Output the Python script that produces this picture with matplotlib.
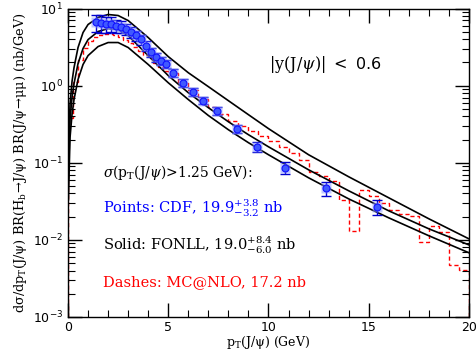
import numpy as np
import matplotlib
matplotlib.use("Agg")
import matplotlib.pyplot as plt
from matplotlib.ticker import LogLocator, MultipleLocator, NullFormatter

plt.rcParams['mathtext.fontset'] = 'dejavuserif'

# FONLL curves (solid): pT grid and central / upper / lower values (nb/GeV)
pt_fonll = [0.02, 0.1, 0.2, 0.3, 0.5, 0.75, 1, 1.5, 2, 2.5, 3, 4, 5, 6, 7, 8, 9, 10, 12, 14, 16, 18, 20]
fonll_upper = [0.109, 0.567, 1.13, 1.71, 3.12, 4.88, 6.2, 7.64, 8.36, 8.11, 6.98, 4.2, 2.38, 1.47, 0.97,
               0.638, 0.42, 0.277, 0.127, 0.0658, 0.0351, 0.01875, 0.0103]
fonll_central = [0.060, 0.362, 0.698, 1.06, 1.93, 3.03, 3.95, 5.03, 5.5, 5.34, 4.46, 2.45, 1.35, 0.81, 0.518,
                 0.34, 0.231, 0.161, 0.081, 0.0433, 0.0238, 0.0139, 0.0086]
fonll_lower = [0.033, 0.211, 0.42, 0.66, 1.2, 1.88, 2.45, 3.21, 3.62, 3.62, 3.12, 1.88, 1.09, 0.66, 0.41,
               0.268, 0.182, 0.127, 0.0638, 0.034, 0.0193, 0.0113, 0.0068]

# MC@NLO histogram (dashed)
mc_edges = [0, 0.25, 0.5, 0.75, 1, 1.25, 1.5, 1.75, 2, 2.25, 2.5, 2.75, 3, 3.25, 3.5, 3.75, 4, 4.25, 4.5, 4.75,
            5, 5.5, 6, 6.5, 7, 7.5, 8, 8.5, 9, 9.5, 10, 10.5, 11, 11.5, 12, 12.5, 13, 13.5, 14, 14.5, 15,
            15.5, 16, 16.5, 17, 17.5, 18, 18.5, 19, 19.5, 20]
mc_values = [0.38, 1.13, 2.18, 3.12, 3.84, 4.33, 4.6, 4.74, 4.74, 4.6, 4.33, 3.95, 3.62, 3.21, 2.85, 2.53,
             2.25, 1.99, 1.77, 1.57,
             1.45, 1.12, 0.87, 0.68, 0.53, 0.43, 0.35, 0.30, 0.26, 0.22, 0.19, 0.16, 0.135, 0.11,
             0.077, 0.068, 0.058, 0.033, 0.0129, 0.0446, 0.0375, 0.0297, 0.0246, 0.0217, 0.0204, 0.0093,
             0.0151, 0.0126, 0.0047, 0.0041]

# CDF data points
pt_cdf = [1.4, 1.65, 1.9, 2.15, 2.4, 2.65, 2.9, 3.15, 3.4, 3.65, 3.9, 4.15, 4.4, 4.65, 4.9, 5.25, 5.75,
          6.25, 6.75, 7.45, 8.45, 9.45, 10.8, 12.85, 15.4]
cdf_values = [6.6, 6.5, 6.3, 6.3, 6.0, 5.8, 5.4, 4.9, 4.5, 4.0, 3.3, 2.7, 2.35, 2.1, 1.9, 1.47, 1.09,
              0.835, 0.64, 0.47, 0.277, 0.161, 0.086, 0.047, 0.0268]
cdf_relerr = [0.25, 0.25, 0.24, 0.22, 0.2, 0.18, 0.17, 0.16, 0.15, 0.15, 0.14, 0.13, 0.13, 0.12, 0.12,
              0.11, 0.11, 0.11, 0.11, 0.11, 0.12, 0.14, 0.18, 0.2, 0.22]

fig = plt.figure(figsize=(4.77, 3.54), dpi=100)
ax = fig.add_axes([68/477, 1-317/354, 401/477, 308.5/354])

for arr in (fonll_upper, fonll_central, fonll_lower):
    ax.plot(pt_fonll, arr, color='black', lw=1.2)

ax.stairs(mc_values, mc_edges, color='red', lw=1.0, ls=(0, (3, 2)), baseline=1e-3)

yv = np.array(cdf_values)
err = yv * np.array(cdf_relerr)
ax.errorbar(pt_cdf, yv, yerr=err, fmt='none', ecolor='#0000cc', elinewidth=1.0, capsize=3.5, capthick=1.0, zorder=4)
ax.plot(pt_cdf, yv, 's', ms=7.5, mfc=(0.55, 0.6, 1.0, 0.55), mec='none', zorder=4)
ax.plot(pt_cdf, yv, 'o', ms=5, mfc=(0.25, 0.35, 1.0), mec='#1010ff', mew=0.8, zorder=5)

ax.set_yscale('log')
ax.set_xlim(0, 20)
ax.set_ylim(1e-3, 10)
ax.xaxis.set_major_locator(MultipleLocator(5))
ax.xaxis.set_minor_locator(MultipleLocator(1))
ax.yaxis.set_major_locator(LogLocator(base=10, numticks=10))
ax.yaxis.set_minor_locator(LogLocator(base=10, subs=np.arange(2, 10), numticks=20))
ax.yaxis.set_minor_formatter(NullFormatter())
ax.tick_params(which='both', direction='in', top=True, right=True, labelsize=9)
ax.tick_params(axis='x', which='major', pad=3)
ax.tick_params(which='major', length=10, width=1.0)
ax.tick_params(which='minor', length=5, width=0.8)
for s in ax.spines.values():
    s.set_linewidth(1.0)

ax.set_xlabel(r'$\mathrm{p_T(J/\psi)}$ (GeV)', fontsize=9, family='DejaVu Serif', labelpad=0)
ax.set_ylabel(r'$\mathrm{d\sigma/dp_T(J/\psi)\ BR(H_b\!\rightarrow\! J/\psi)\ BR(J/\psi\!\rightarrow\!\mu\mu)}$ (nb/GeV)',
              fontsize=9.3, family='DejaVu Serif', labelpad=3)

fig.text(325/477, 1-64.5/354, r'$|\mathrm{y(J/}\psi\mathrm{)}|\ <\ $0.6', fontsize=11.5,
         ha='center', va='center', family='DejaVu Sans')
fig.text(103/477, 1-172/354, r'$\sigma(\mathrm{p_T(J/}\psi\mathrm{)}$>1.25 GeV):', fontsize=10,
         ha='left', va='center', family='DejaVu Serif')
fig.text(103/477, 1-208/354, r'Points: CDF, 19.9$^{+3.8}_{-3.2}$ nb', fontsize=10.5, color='#0000ff',
         ha='left', va='center', family='DejaVu Serif')
fig.text(103/477, 1-245/354, r'Solid: FONLL, 19.0$^{+8.4}_{-6.0}$ nb', fontsize=10.5, color='black',
         ha='left', va='center', family='DejaVu Serif')
fig.text(103/477, 1-282/354, r'Dashes: MC@NLO, 17.2 nb', fontsize=10.5, color='red',
         ha='left', va='center', family='DejaVu Serif')

fig.savefig('out.png', dpi=100)
